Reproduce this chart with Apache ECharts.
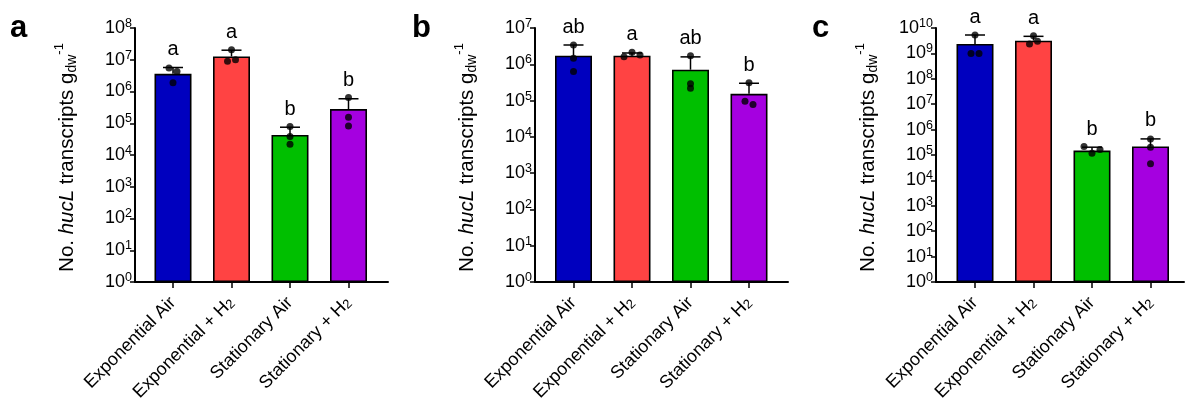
<!DOCTYPE html>
<html>
<head>
<meta charset="utf-8">
<script src="https://cdn.jsdelivr.net/npm/echarts@6/dist/echarts.min.js"></script>
<style>
html,body{margin:0;padding:0;background:#fff;}
#chart{width:1185px;height:406px;}
</style>
</head>
<body>
<div id="chart"></div>
<script>
// ---------- data ----------
const categories = ['Exponential Air', 'Exponential + H2', 'Stationary Air', 'Stationary + H2'];
const barColors = ['#0000BF', '#FF4343', '#00BF00', '#A500E0'];

const meanA = [3.6e6, 1.27e7, 4.3e4, 2.8e5];
const errTopA = [5.7e6, 2.0e7, 7.5e4, 5.9e5];
const dotsA = [[5.5e6, 1.9e6, 4.3e6], [8.9e6, 2.07e7, 1.0e7], [7.85e4, 3.8e4, 2.2e4], [6.45e5, 1.55e5, 8.2e4]];
const lettersA = ['a', 'a', 'b', 'b'];

const meanB = [1.73e6, 1.73e6, 7.1e5, 1.53e5];
const errTopB = [3.4e6, 2.05e6, 1.6e6, 3.0e5];
const dotsB = [[3.4e6, 1.46e6, 6.3e5], [1.62e6, 2.14e6, 1.8e6], [1.73e6, 2.9e5, 2.2e5], [3.1e5, 9.6e4, 7.8e4]];
const lettersB = ['ab', 'a', 'ab', 'b'];

const meanC = [2.35e9, 3.18e9, 1.5e5, 2.16e5];
const errTopC = [5.3e9, 4.7e9, 2.03e5, 4.3e5];
const dotsC = [[1.0e9, 5.3e9, 1.0e9], [2.35e9, 5.0e9, 2.99e9], [2.16e5, 1.18e5, 1.64e5], [4.3e5, 2.03e5, 4.5e4]];
const lettersC = ['a', 'a', 'b', 'b'];

const panelLabels = ['a', 'b', 'c'];
const yMaxExp = [8, 7, 10];

// ---------- layout ----------
const FONT = '"Liberation Sans", Arial, sans-serif';
const TOP = 28, HEIGHT = 254;
const layout = [
  { axisX: 135, right: 388, c0: 173, labelX: 5 },
  { axisX: 535, right: 788, c0: 573.5, labelX: 407 },
  { axisX: 936, right: 1184, c0: 975, labelX: 807 }
];
const STEP = 58.5;
const panels = [
  { mean: meanA, err: errTopA, dots: dotsA, letters: lettersA },
  { mean: meanB, err: errTopB, dots: dotsB, letters: lettersB },
  { mean: meanC, err: errTopC, dots: dotsC, letters: lettersC }
];

function jitter(vals, pxPerDec) {
  // cluster overlapping dots and spread them horizontally
  const idx = vals.map((v, i) => i).sort((p, q) => vals[q] - vals[p]);
  const off = vals.map(() => 0);
  let cluster = [idx[0]];
  const flush = () => {
    const c = cluster.slice().sort((p, q) => p - q);
    c.forEach((k, j) => { off[k] = (j - (c.length - 1) / 2) * 8; });
  };
  for (let j = 1; j < idx.length; j++) {
    const d = Math.abs(Math.log10(vals[idx[j - 1]]) - Math.log10(vals[idx[j]])) * pxPerDec;
    if (d < 4) cluster.push(idx[j]); else { flush(); cluster = [idx[j]]; }
  }
  flush();
  return off;
}

const grid = [], xAxis = [], yAxis = [], series = [], title = [];
const supRich = { s: { fontSize: 12.5, verticalAlign: 'top', fontFamily: FONT, color: '#000' } };

panels.forEach((p, k) => {
  const L = layout[k];
  const maxV = Math.pow(10, yMaxExp[k]);
  grid.push({ left: L.axisX, top: TOP, width: L.right - L.axisX, height: HEIGHT, containLabel: false });
  grid.push({ left: L.c0 - STEP / 2, top: TOP, width: STEP * 4, height: HEIGHT, containLabel: false });
  const gF = 2 * k, gB = 2 * k + 1;

  xAxis.push({
    gridIndex: gF, type: 'value', min: 0, max: 1,
    axisLine: { show: true, onZero: false, lineStyle: { color: '#000', width: 2 } },
    axisTick: { show: false }, axisLabel: { show: false }, splitLine: { show: false }
  });
  yAxis.push({
    gridIndex: gF, type: 'log', logBase: 10, min: 1, max: maxV, interval: 1,
    axisLine: { show: true, lineStyle: { color: '#000', width: 2 } },
    axisTick: { show: true, length: 5, lineStyle: { color: '#000', width: 1.5 } },
    minorTick: { show: false }, splitLine: { show: false },
    axisLabel: {
      margin: 3, color: '#000', fontSize: 18, fontFamily: FONT, lineHeight: 22,
      showMinLabel: true, showMaxLabel: true,
      formatter: v => '10{s|' + Math.round(Math.log10(v)) + '}', rich: supRich
    },
    name: 'No. {i|hucL} transcripts g{sub|dw}{sup|-1}',
    nameLocation: 'middle', nameRotate: 90, nameGap: 54,
    nameTextStyle: {
      color: '#000', fontSize: 20.5, fontFamily: FONT, lineHeight: 28, padding: [0, 5, 0, 0],
      rich: {
        i: { fontStyle: 'italic', fontSize: 20.5, fontFamily: FONT, color: '#000' },
        sub: { fontSize: 14, verticalAlign: 'bottom', fontFamily: FONT, color: '#000', padding: [0, 0, 2, 0] },
        sup: { fontSize: 13, verticalAlign: 'top', fontFamily: FONT, color: '#000' }
      }
    }
  });

  xAxis.push({
    gridIndex: gB, type: 'category', data: categories,
    axisLine: { show: false },
    axisTick: { show: true, alignWithLabel: true, length: 6, lineStyle: { color: '#000', width: 1.5 } },
    axisLabel: {
      rotate: 45, margin: 18, color: '#000', fontSize: 18, fontFamily: FONT, interval: 0,
      formatter: s => s.replace('H2', 'H{sub|2}'),
      rich: { sub: { fontSize: 13, verticalAlign: 'bottom', fontFamily: FONT, color: '#000' } }
    },
    splitLine: { show: false }
  });
  yAxis.push({ gridIndex: gB, type: 'log', logBase: 10, min: 1, max: maxV, show: false });
  const xiB = 2 * k + 1, yiB = 2 * k + 1;

  series.push({
    type: 'bar', xAxisIndex: xiB, yAxisIndex: yiB, barWidth: 37,
    data: p.mean.map((v, i) => ({ value: v, itemStyle: { color: barColors[i] } })),
    itemStyle: { borderColor: '#000', borderWidth: 1.6 },
    silent: true, animation: false, z: 2
  });

  const letters = p.letters;
  series.push({
    type: 'custom', xAxisIndex: xiB, yAxisIndex: yiB, animation: false, z: 3, clip: false,
    data: p.mean.map((v, i) => [i, v, p.err[i]]),
    encode: { x: 0, y: [1, 2] },
    renderItem: (params, api) => {
      const i = api.value(0);
      const m = api.coord([i, api.value(1)]);
      const t = api.coord([i, api.value(2)]);
      return {
        type: 'group', children: [
          { type: 'line', shape: { x1: m[0], y1: m[1], x2: t[0], y2: t[1] }, style: { stroke: '#000', lineWidth: 1.5 } },
          { type: 'line', shape: { x1: t[0] - 10, y1: t[1], x2: t[0] + 10, y2: t[1] }, style: { stroke: '#000', lineWidth: 1.5 } },
          { type: 'text', x: t[0], y: t[1] - 8, style: { text: letters[params.dataIndex], fill: '#000', font: '20px ' + FONT, align: 'center', verticalAlign: 'bottom' } }
        ]
      };
    }
  });

  const pxPerDec = HEIGHT / yMaxExp[k];
  const dotData = [];
  p.dots.forEach((arr, i) => {
    const off = jitter(arr, pxPerDec);
    arr.forEach((v, j) => dotData.push({ value: [i, v], symbolOffset: [off[j], 0] }));
  });
  series.push({
    type: 'scatter', xAxisIndex: xiB, yAxisIndex: yiB, symbol: 'circle', symbolSize: 7,
    itemStyle: { color: '#000' }, data: dotData, animation: false, z: 4, silent: true
  });

  title.push({ text: panelLabels[k], left: L.labelX, top: 8, textStyle: { fontSize: 31, fontWeight: 'bold', color: '#000', fontFamily: FONT } });
});

const chart = echarts.init(document.getElementById('chart'), null, { renderer: 'canvas' });
chart.setOption({ backgroundColor: '#fff', animation: false, title, grid, xAxis, yAxis, series });
</script>
</body>
</html>
